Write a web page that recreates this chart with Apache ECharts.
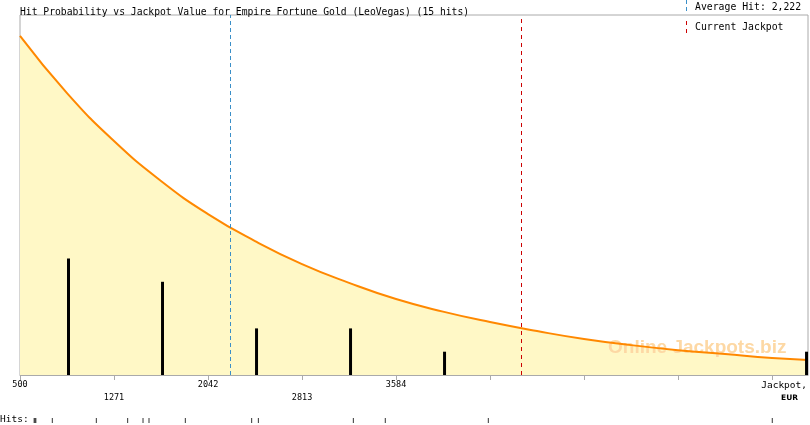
<!DOCTYPE html>
<html><head><meta charset="utf-8">
<script src="https://cdn.jsdelivr.net/npm/echarts@6/dist/echarts.min.js"></script>
<style>html,body{margin:0;padding:0;background:#fff}#c{width:810px;height:425px}</style>
</head><body><div id="c"></div>
<script>
const titleText = 'Hit Probability vs Jackpot Value for Empire Fortune Gold (LeoVegas) (15 hits)';
const xMin = 500, xMax = 6963, xStep = 771;
const xTickLabels = [500, 1271, 2042, 2813, 3584];
const curveX = [500, 885.5, 1271, 1656.5, 2042, 2427.5, 2813, 3198.5, 3584, 3969.5, 4355, 4740.5, 5126, 5511.5, 5897, 6282.5, 6668, 6963];
const curveProb = [94.2, 78.3, 65.0, 53.9, 44.7, 37.2, 30.8, 25.6, 21.1, 17.6, 14.7, 12.2, 10.0, 8.3, 6.9, 5.8, 4.7, 4.2];
const binCenters = [898, 1669, 2440, 3211, 3982, 6951];
const binCounts = [5, 4, 2, 2, 1, 1];
const hitValues = [616, 623, 630, 765, 1126, 1383, 1509, 1558, 1856, 2400, 2455, 3234, 3496, 4341, 6670];
const averageHit = 2222;
const currentJackpot = 4610;
const legendTexts = ['Average Hit: 2,222', 'Current Jackpot'];
const watermark = 'Online Jackpots.biz';

const MONO = 'DejaVu Sans Mono';
const chart = echarts.init(document.getElementById('c'), null, {renderer: 'canvas'});
chart.setOption({
  animation: false,
  backgroundColor: '#fff',
  title: {
    text: titleText, left: 15, top: 1,
    textStyle: {fontFamily: MONO, fontSize: 9.7, fontWeight: 'normal', color: '#000', lineHeight: 12}
  },
  grid: [
    {left: 20, right: 2, top: 15, bottom: 50, show: true, borderColor: '#aaa', borderWidth: 1, backgroundColor: 'transparent'},
    {left: 20, right: 2, top: 418, height: 5}
  ],
  xAxis: [
    {
      type: 'value', gridIndex: 0, min: xMin, max: xMax, interval: xStep,
      axisLine: {show: true, lineStyle: {color: '#aaa'}},
      axisTick: {show: true, length: 5, lineStyle: {color: '#aaa'}},
      splitLine: {show: false},
      axisLabel: {
        showMaxLabel: false, margin: 4, fontFamily: MONO, fontSize: 8.5, color: '#000', lineHeight: 12.5,
        formatter: function (v) {
          const i = xTickLabels.indexOf(Math.round(v));
          if (i < 0) return '';
          return (i % 2 === 1 ? '\n' : '') + xTickLabels[i];
        }
      }
    },
    {type: 'value', gridIndex: 1, min: xMin, max: xMax, show: false}
  ],
  yAxis: [
    {type: 'value', gridIndex: 0, min: 0, max: 15.45, show: false},
    {type: 'value', gridIndex: 0, min: 0, max: 100, show: false},
    {type: 'value', gridIndex: 1, min: 0, max: 1, show: false}
  ],
  series: [
    {
      type: 'line', xAxisIndex: 0, yAxisIndex: 1, z: 1, smooth: true, symbol: 'none',
      data: curveX.map((x, i) => [x, curveProb[i]]),
      lineStyle: {width: 0, opacity: 0},
      areaStyle: {color: '#fff8c6', opacity: 1},
      silent: true,
      markLine: {
        silent: true, symbol: 'none', label: {show: false},
        data: [
          {xAxis: averageHit, lineStyle: {color: '#3a8fc8', type: [4, 3], width: 1}},
          {xAxis: currentJackpot, lineStyle: {color: '#cc0000', type: [4, 4], width: 1}}
        ]
      }
    },
    {
      type: 'line', xAxisIndex: 0, yAxisIndex: 1, z: 4, smooth: true, symbol: 'none',
      data: curveX.map((x, i) => [x, curveProb[i]]),
      lineStyle: {width: 2, color: '#ff8800'}, silent: true
    },
    {
      type: 'bar', xAxisIndex: 0, yAxisIndex: 0, z: 5, barWidth: 3,
      data: binCenters.map((x, i) => [x, binCounts[i]]),
      itemStyle: {color: '#000'}, silent: true
    },
    {
      type: 'scatter', xAxisIndex: 1, yAxisIndex: 2, symbol: 'rect', symbolSize: [1, 5],
      data: hitValues.map(v => [v, 0.5]),
      itemStyle: {color: '#000'}, silent: true
    }
  ],
  graphic: [
    {type: 'text', left: 608, top: 338, z: 3, silent: true,
     style: {text: watermark, fill: '#fdd8a4', font: 'bold 19px "Liberation Sans", Arial, sans-serif'}},
    {type: 'line', z: 10, shape: {x1: 686.5, y1: 0, x2: 686.5, y2: 12}, style: {stroke: '#3a8fc8', lineWidth: 1, lineDash: [4, 3]}},
    {type: 'line', z: 10, shape: {x1: 686.5, y1: 21, x2: 686.5, y2: 33}, style: {stroke: '#cc0000', lineWidth: 1, lineDash: [4, 4]}},
    {type: 'text', z: 10, x: 695, y: 7, style: {text: legendTexts[0], fill: '#000', font: '9.8px "DejaVu Sans Mono"', verticalAlign: 'middle'}},
    {type: 'text', z: 10, x: 695, y: 27, style: {text: legendTexts[1], fill: '#000', font: '9.8px "DejaVu Sans Mono"', verticalAlign: 'middle'}},
    {type: 'text', z: 10, x: 807, y: 386, style: {text: 'Jackpot,', fill: '#000', font: '9.5px "DejaVu Sans Mono"', align: 'right', verticalAlign: 'middle'}},
    {type: 'text', z: 10, x: 798, y: 398, style: {text: 'EUR', fill: '#000', font: 'bold 7.5px "DejaVu Sans"', align: 'right', verticalAlign: 'middle'}},
    {type: 'text', z: 10, x: 0, y: 420, style: {text: 'Hits:', fill: '#000', font: '9.5px "DejaVu Sans Mono"', verticalAlign: 'middle'}}
  ]
});
</script></body></html>
